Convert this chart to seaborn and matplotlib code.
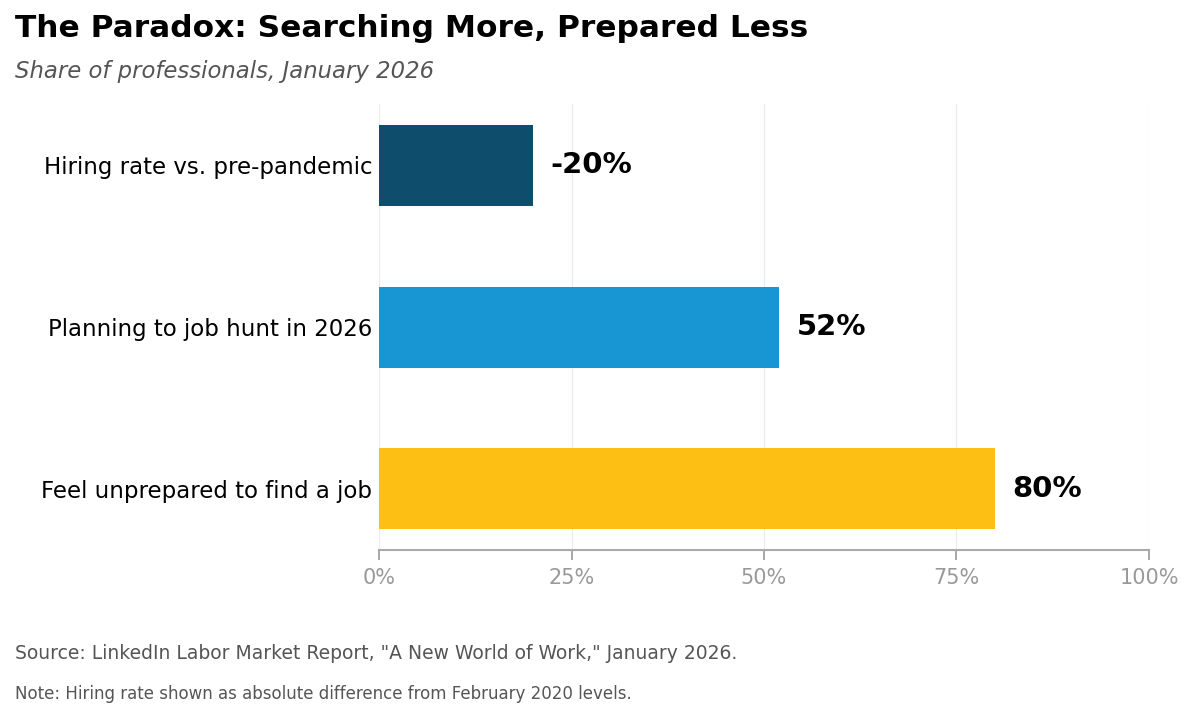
import pandas as pd
import matplotlib.pyplot as plt
import seaborn as sns

# Chart data
categories = ['Hiring rate vs. pre-pandemic', 'Planning to job hunt in 2026', 'Feel unprepared to find a job']
values = [-20, 52, 80]
bar_colors = ['#0E4D6B', '#1896D3', '#FDBF13']
x_ticks = [0, 25, 50, 75, 100]

df = pd.DataFrame({'category': categories, 'value': values})
df['length'] = df['value'].abs()

sns.set_style('white')
plt.rcParams['font.family'] = ['DejaVu Sans']

fig = plt.figure(figsize=(11.93, 7.18), dpi=100)
ax = fig.add_axes([0.3177, 0.234, 0.6454, 0.621])

sns.barplot(data=df, y='category', x='length', hue='category', palette=bar_colors,
            orient='h', width=0.5, legend=False, ax=ax, saturation=1, linewidth=0)

# value labels
for i, row in df.iterrows():
    ax.text(row['length'] + 2.2, i, f"{row['value']}%", va='center', ha='left',
            fontsize=21, fontweight='bold', color='black')

ax.set_xlim(0, 100)
ax.set_ylim(2.377, -0.377)
ax.set_xticks(x_ticks)
ax.set_xticklabels([f'{t}%' for t in x_ticks])
ax.set_xlabel('')
ax.set_ylabel('')
ax.grid(axis='x', color='#ebebeb', linewidth=0.8)
ax.set_axisbelow(True)

for side in ['top', 'right', 'left']:
    ax.spines[side].set_visible(False)
ax.spines['bottom'].set_color('#aaaaaa')
ax.spines['bottom'].set_linewidth(1.5)

ax.tick_params(axis='x', colors='#999999', labelsize=15, length=7, width=1.2,
               direction='out', bottom=True, pad=6)
ax.tick_params(axis='y', labelsize=16.5, length=0, pad=5, labelcolor='black')

fig.text(0.0126, 0.96, 'The Paradox: Searching More, Prepared Less', fontsize=22.5,
         fontweight='bold', color='black', ha='left', va='center')
fig.text(0.0126, 0.9, 'Share of professionals, January 2026', fontsize=16.4,
         style='italic', color='#555555', ha='left', va='center')
fig.text(0.0126, 0.09, 'Source: LinkedIn Labor Market Report, "A New World of Work," January 2026.',
         fontsize=13.5, color='#555555', ha='left', va='center')
fig.text(0.0126, 0.033, 'Note: Hiring rate shown as absolute difference from February 2020 levels.',
         fontsize=12, color='#555555', ha='left', va='center')

fig.savefig('out.png', dpi=100)
